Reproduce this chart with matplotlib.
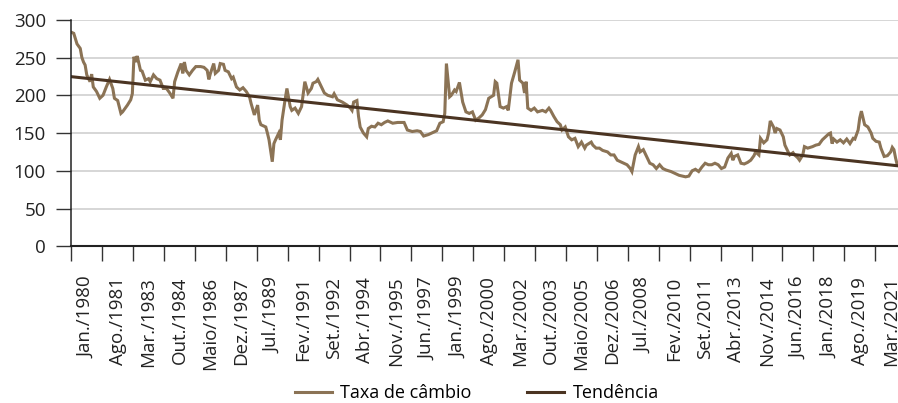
import matplotlib.pyplot as plt

plt.rcParams['font.family'] = ['Open Sans', 'DejaVu Sans']

# meses contados a partir de jan./1980 (0 = jan./1980)
meses = [0, 1, 3, 5, 6, 7, 8, 9, 11, 12, 13, 15, 17, 19, 21, 23, 25, 26, 28, 30,
         31, 34, 36, 37, 38, 39, 40, 42, 43, 45, 47, 48, 50, 52, 54, 56, 58, 60, 62, 63,
         65, 67, 68, 69, 70, 72, 74, 76, 79, 81, 83, 84, 85, 87, 88, 90, 91, 93, 94, 96,
         98, 99, 101, 103, 105, 107, 109, 110, 112, 114, 115, 116, 119, 120, 121, 123, 124, 125, 127, 128,
         129, 131, 132, 134, 135, 137, 139, 141, 143, 145, 147, 148, 150, 151, 153, 155, 157, 160, 161, 163,
         166, 169, 171, 172, 173, 175, 176, 177, 179, 181, 182, 184, 186, 188, 190, 192, 194, 197, 200, 204,
         206, 209, 212, 214, 216, 219, 221, 224, 226, 228, 229, 230, 232, 233, 235, 236, 238, 240, 242, 244,
         246, 248, 250, 252, 254, 256, 259, 260, 261, 263, 265, 267, 268, 270, 272, 274, 275, 277, 278, 279,
         280, 282, 284, 286, 289, 291, 293, 294, 296, 298, 300, 301, 303, 305, 307, 309, 311, 313, 315, 316,
         319, 320, 322, 324, 326, 329, 331, 333, 335, 337, 339, 341, 343, 344, 346, 348, 349, 351, 353, 355,
         357, 359, 361, 363, 365, 368, 370, 373, 375, 377, 379, 381, 383, 385, 387, 389, 391, 393, 395, 397,
         399, 401, 403, 405, 406, 407, 409, 411, 413, 415, 417, 419, 420, 422, 423, 425, 427, 428, 429, 431,
         432, 433, 435, 437, 438, 440, 441, 443, 444, 446, 447, 449, 450, 452, 455, 457, 459, 461, 463, 465,
         466, 467, 468, 470, 472, 474, 476, 478, 480, 481, 483, 484, 485, 487, 489, 491, 492, 494, 496, 497,
         499, 501, 503, 504, 505, 506, 507]
taxa = [283, 282, 268, 262, 250, 244, 240, 227, 218, 228, 211, 205, 196, 200, 211, 221, 209, 196, 193, 176,
        178, 187, 194, 202, 251, 244, 252, 233, 232, 220, 222, 218, 227, 222, 220, 209, 209, 203, 196, 218,
        231, 242, 229, 244, 233, 227, 233, 238, 238, 237, 233, 221, 229, 242, 229, 233, 242, 241, 233, 231,
        222, 224, 211, 207, 210, 205, 198, 189, 174, 187, 167, 161, 158, 150, 141, 112, 136, 141, 150, 141,
        167, 196, 209, 185, 180, 183, 176, 185, 218, 203, 209, 216, 218, 221, 212, 203, 200, 198, 202, 194,
        191, 187, 183, 180, 191, 193, 172, 158, 150, 145, 156, 159, 158, 163, 161, 164, 166, 163, 164, 164,
        154, 152, 153, 152, 146, 148, 150, 153, 163, 165, 176, 242, 198, 200, 207, 205, 217, 191, 178, 176,
        178, 167, 170, 174, 181, 196, 200, 218, 216, 185, 183, 185, 180, 216, 231, 247, 220, 216, 203, 218,
        183, 180, 183, 178, 180, 178, 183, 180, 172, 165, 161, 154, 158, 145, 141, 143, 132, 138, 130, 134,
        138, 134, 130, 130, 127, 125, 121, 121, 114, 112, 110, 108, 103, 99, 121, 132, 125, 128, 119, 110,
        108, 103, 108, 103, 101, 99, 97, 94, 93, 92, 93, 100, 102, 99, 105, 110, 108, 108, 110, 108,
        103, 105, 117, 123, 114, 119, 121, 110, 109, 111, 114, 120, 125, 121, 143, 137, 141, 150, 166, 158,
        150, 156, 154, 145, 134, 125, 121, 124, 121, 117, 114, 121, 132, 130, 132, 134, 135, 141, 145, 149,
        150, 136, 142, 138, 141, 137, 142, 136, 143, 142, 154, 170, 179, 161, 158, 150, 143, 139, 138, 130,
        119, 120, 125, 131, 128, 117, 108]

# linha de tendência: valores no primeiro e no último mês
tendencia_meses = [0, 507]
tendencia = [224.5, 106.7]

n_meses = 508
passo = 19
rotulos = ['Jan./1980', 'Ago./1981', 'Mar./1983', 'Out./1984', 'Maio/1986', 'Dez./1987',
           'Jul./1989', 'Fev./1991', 'Set./1992', 'Abr./1994', 'Nov./1995', 'Jun./1997',
           'Jan./1999', 'Ago./2000', 'Mar./2002', 'Out./2003', 'Maio/2005', 'Dez./2006',
           'Jul./2008', 'Fev./2010', 'Set./2011', 'Abr./2013', 'Nov./2014', 'Jun./2016',
           'Jan./2018', 'Ago./2019', 'Mar./2021']

cor_taxa = '#8b7355'
cor_tend = '#4b3422'

fig = plt.figure(figsize=(8.98, 4.03), dpi=100)
ax = fig.add_axes([0.0794, 0.3888, 1 - 0.0794, 0.951 - 0.3888])

ax.yaxis.grid(True, color='#cccccc', linewidth=1.1)
ax.set_axisbelow(True)

ax.plot([m + 0.5 for m in meses], taxa, color=cor_taxa, linewidth=2.2,
        label='Taxa de câmbio', solid_joinstyle='miter')
ax.plot([m + 0.5 for m in tendencia_meses], tendencia, color=cor_tend, linewidth=2.2,
        label='Tendência')

ax.set_xlim(0, n_meses)
ax.set_ylim(0, 300)
ax.set_yticks(range(0, 301, 50))

# marcas entre grupos de 19 meses, rótulos centrados no intervalo
ax.set_xticks(range(0, n_meses, passo))
ax.set_xticklabels([])
ax.set_xticks([passo * k + passo / 2 for k in range(len(rotulos))], minor=True)
ax.set_xticklabels(rotulos, minor=True, rotation=90)

ax.tick_params(axis='x', which='major', direction='out', length=10.8, width=1.0, color='#333333')
ax.tick_params(axis='x', which='minor', length=0, pad=22, labelsize=13.5, labelcolor='#222222')
ax.tick_params(axis='y', direction='out', length=10.8, width=1.0, color='#333333',
               pad=7.5, labelsize=13.5, labelcolor='#222222')

for s in ['top', 'right']:
    ax.spines[s].set_visible(False)
ax.spines['left'].set_color('#222222')
ax.spines['left'].set_linewidth(1.1)
ax.spines['bottom'].set_color('#222222')
ax.spines['bottom'].set_linewidth(1.5)

fig.legend(loc='center', bbox_to_anchor=(0.531, 0.025), ncol=2, frameon=False,
           fontsize=13, handlelength=2.05, handletextpad=0.45, columnspacing=3.1)

fig.savefig('out.png', dpi=100)
plt.close(fig)
